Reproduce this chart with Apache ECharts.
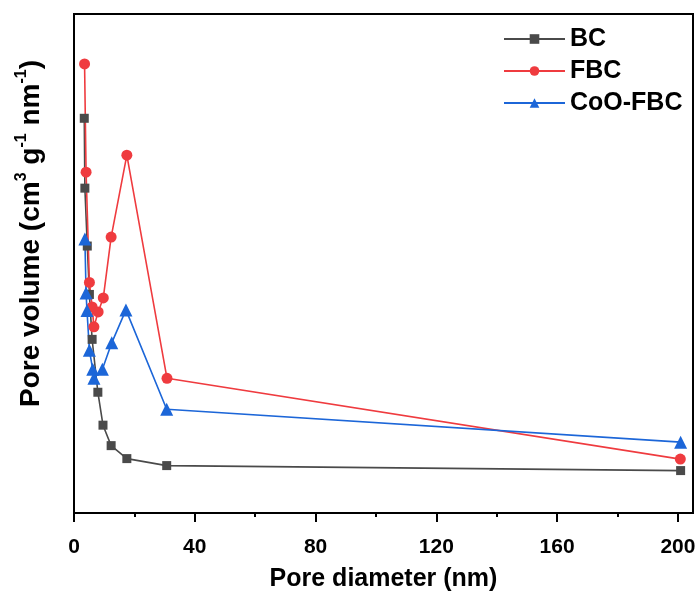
<!DOCTYPE html>
<html>
<head>
<meta charset="utf-8">
<style>
  html, body { margin: 0; padding: 0; background: #fff; }
  #chart { width: 699px; height: 597px; }
</style>
<script src="https://cdn.jsdelivr.net/npm/echarts@6.0.0/dist/echarts.min.js"></script>
</head>
<body>
<div id="chart"></div>
<script>
// pore size distribution (y in arbitrary units)
const bcX = [3.4, 3.6, 4.4, 5.1, 6.0, 7.9, 9.6, 12.3, 17.5, 30.7, 200.9]
const bcY = [79.1, 65.1, 53.5, 43.8, 34.8, 24.2, 17.6, 13.5, 10.9, 9.5, 8.5]

const fbcX = [3.5, 4.0, 5.1, 6.0, 6.6, 8.0, 9.7, 12.3, 17.5, 30.8, 200.8]
const fbcY = [90.0, 68.3, 46.2, 41.3, 37.3, 40.3, 43.1, 55.3, 71.7, 27.0, 10.8]

const cooX = [3.6, 4.0, 4.3, 5.1, 6.2, 6.6, 9.4, 12.5, 17.2, 30.7, 200.9]
const cooY = [54.9, 44.1, 40.6, 32.6, 28.8, 27.0, 28.8, 34.1, 40.7, 20.8, 14.2]

const xMajor = [0, 40, 80, 120, 160, 200]
const xMinor = [20, 60, 100, 140, 180]

const FONT = 'Liberation Sans, Arial, sans-serif'

function pairs(xs, ys) {
	let out = []
	for (let i = 0; i < xs.length; i++) {
		out.push([xs[i], ys[i]])
	}
	return out
}

let chart = echarts.init(document.getElementById('chart'))
let option = {
	animation: false,
	textStyle: { fontFamily: FONT },
	grid: {
		left: 74, right: 6, top: 14, bottom: 83,
		show: true, borderColor: '#000', borderWidth: 2
	},
	legend: {
		left: 503, top: 25, padding: 0,
		orient: 'vertical',
		itemWidth: 61, itemHeight: 12, itemGap: 4,
		textStyle: { fontFamily: FONT, fontSize: 25, fontWeight: 'bold', color: '#000', lineHeight: 28 },
		data: ['BC', 'FBC', 'CoO-FBC']
	},
	xAxis: [
		{
			type: 'value', min: 0, max: 205,
			name: 'Pore diameter (nm)', nameLocation: 'middle', nameGap: 54,
			nameTextStyle: { fontFamily: FONT, fontSize: 25, fontWeight: 'bold', color: '#000' },
			axisLine: { show: true, lineStyle: { color: '#000', width: 2 } },
			axisTick: { show: true, inside: false, length: 9, lineStyle: { color: '#000', width: 2 }, customValues: xMajor },
			axisLabel: { show: true, margin: 24, fontFamily: FONT, fontSize: 21, fontWeight: 'bold', color: '#000', customValues: xMajor },
			splitLine: { show: false }
		},
		{
			type: 'value', min: 0, max: 205, position: 'bottom',
			axisLine: { show: false },
			axisTick: { show: true, inside: false, length: 4, lineStyle: { color: '#000', width: 2 }, customValues: xMinor },
			axisLabel: { show: false },
			splitLine: { show: false }
		}
	],
	yAxis: {
		type: 'value', min: 0, max: 100,
		name: 'Pore volume (cm{sup|3} g{sup|-1} nm{sup|-1})',
		nameLocation: 'middle', nameGap: 26,
		nameTextStyle: {
			fontFamily: FONT, fontSize: 28, fontWeight: 'bold', color: '#000',
			lineHeight: 34,
			padding: [0, 0, 0, 60],
			rich: {
				sup: { fontFamily: FONT, fontSize: 16, fontWeight: 'bold', color: '#000', verticalAlign: 'top', lineHeight: 16 }
			}
		},
		axisLine: { show: true, lineStyle: { color: '#000', width: 2 } },
		axisTick: { show: false },
		axisLabel: { show: false },
		splitLine: { show: false }
	},
	series: [
		{
			name: 'BC', type: 'line',
			symbol: 'rect', symbolSize: 9,
			itemStyle: { color: '#4a4a4a' },
			lineStyle: { color: '#4a4a4a', width: 1.6 },
			data: pairs(bcX, bcY)
		},
		{
			name: 'FBC', type: 'line',
			symbol: 'circle', symbolSize: 11,
			itemStyle: { color: '#ef3b3f' },
			lineStyle: { color: '#ef3b3f', width: 1.6 },
			data: pairs(fbcX, fbcY)
		},
		{
			name: 'CoO-FBC', type: 'line',
			symbol: 'triangle', symbolSize: 13,
			itemStyle: { color: '#1c66d8' },
			lineStyle: { color: '#1c66d8', width: 1.6 },
			data: pairs(cooX, cooY)
		}
	]
}
chart.setOption(option)
</script>
</body>
</html>
